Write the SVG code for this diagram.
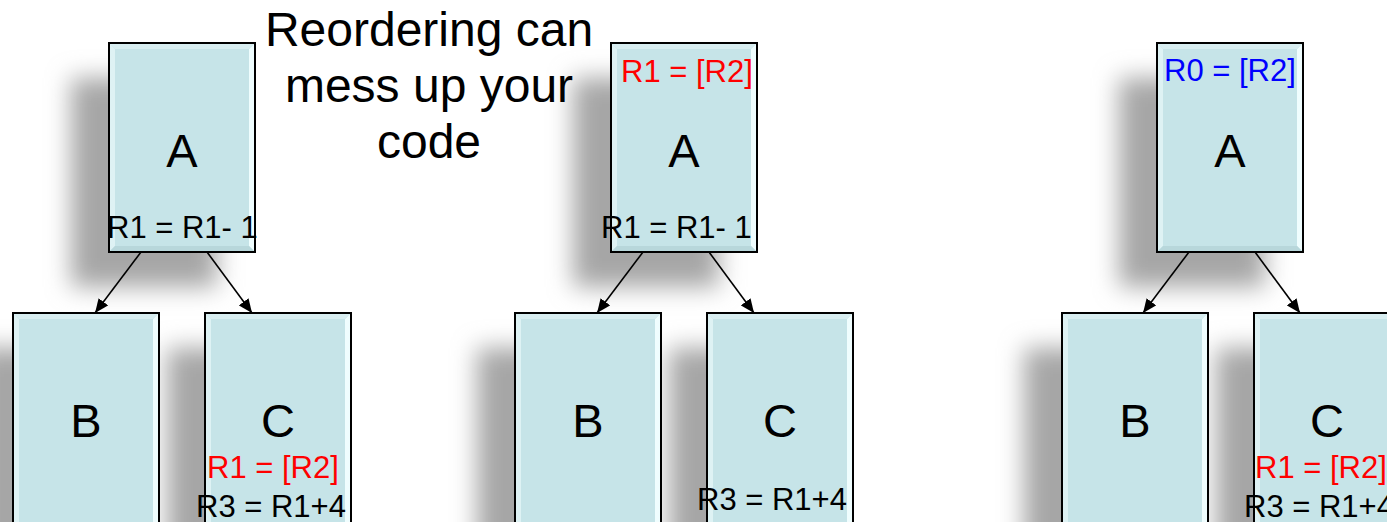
<svg xmlns="http://www.w3.org/2000/svg" xmlns:xlink="http://www.w3.org/1999/xlink" width="1387" height="522" viewBox="0 0 1387 522">
  <style>
    .lbl { font-family: "Liberation Sans", Arial, sans-serif; fill: #000; }
    .big { font-size: 47px; text-anchor: middle; }
    .code { font-size: 31px; }
    .title { font-size: 48px; text-anchor: middle; }
    .red { fill: #ff0000; }
    .blue { fill: #0000ff; }
    .shadow { fill: #a6a6a6; filter: url(#soft); }
    .face { fill: #c6e4e8; }
    .edge { fill: none; stroke: #000; stroke-width: 2; }
    .bl { fill: #def2f4; }
    .br { fill: #effdfe; }
    .bt { fill: #d8eef1; }
    .bb { fill: #b8d7db; }
    .link { stroke: #000; stroke-width: 1.6; fill: none; marker-end: url(#head); }
  </style>
  <defs>
    <filter id="soft" x="-50%" y="-50%" width="200%" height="200%">
      <feGaussianBlur stdDeviation="12"/>
    </filter>
    <marker id="head" viewBox="0 0 14 12" refX="14" refY="6" markerWidth="14" markerHeight="12" markerUnits="userSpaceOnUse" orient="auto">
      <path d="M0,0 L14,6 L0,12 Z" fill="#000"/>
    </marker>
    <!-- bevelled parent box -->
    <g id="boxTop">
      <rect class="face" width="146" height="209"/>
      <polygon class="bl" points="0,0 6,6 6,203 0,209"/>
      <polygon class="br" points="146,0 140,6 140,203 146,209"/>
      <polygon class="bt" points="0,0 146,0 140,6 6,6"/>
      <polygon class="bb" points="0,209 6,203 140,203 146,209"/>
      <rect class="edge" width="146" height="209"/>
    </g>
    <!-- bevelled child box (runs past the bottom edge) -->
    <g id="boxLow">
      <rect class="face" width="146" height="215"/>
      <polygon class="bl" points="0,0 6,6 6,209 0,215"/>
      <polygon class="br" points="146,0 140,6 140,209 146,215"/>
      <polygon class="bt" points="0,0 146,0 140,6 6,6"/>
      <rect class="edge" width="146" height="215"/>
    </g>
  </defs>

  <rect width="1387" height="522" fill="#fff"/>

  <!-- drop shadows -->
  <g id="shadows">
    <rect class="shadow" x="71" y="78" width="146" height="209"/>
    <rect class="shadow" x="-25" y="348" width="146" height="215"/>
    <rect class="shadow" x="167" y="348" width="146" height="215"/>
    <rect class="shadow" x="573" y="78" width="146" height="209"/>
    <rect class="shadow" x="477" y="348" width="146" height="215"/>
    <rect class="shadow" x="669" y="348" width="146" height="215"/>
    <rect class="shadow" x="1119" y="78" width="146" height="209"/>
    <rect class="shadow" x="1024" y="348" width="146" height="215"/>
    <rect class="shadow" x="1216" y="348" width="146" height="215"/>
  </g>

  <!-- heading -->
  <g id="heading" class="lbl title">
    <text x="429" y="46">Reordering can</text>
    <text x="429" y="102">mess up your</text>
    <text x="429" y="158">code</text>
  </g>

  <!-- first tree -->
  <g id="t1-A">
    <use xlink:href="#boxTop" x="109" y="43"/>
    <text class="lbl big" x="182" y="167">A</text>
    <text class="lbl code" x="107" y="238">R1 = R1- 1</text>
  </g>
  <g id="t1-B">
    <use xlink:href="#boxLow" x="13" y="313"/>
    <text class="lbl big" x="86" y="437">B</text>
  </g>
  <g id="t1-C">
    <use xlink:href="#boxLow" x="205" y="313"/>
    <text class="lbl big" x="278" y="437">C</text>
    <text class="lbl code red" x="207" y="478">R1 = [R2]</text>
    <text class="lbl code" x="196" y="517">R3 = R1+4</text>
  </g>

  <!-- second tree -->
  <g id="t2-A">
    <use xlink:href="#boxTop" x="611" y="43"/>
    <text class="lbl code red" x="621" y="82">R1 = [R2]</text>
    <text class="lbl big" x="684" y="167">A</text>
    <text class="lbl code" x="601" y="238">R1 = R1- 1</text>
  </g>
  <g id="t2-B">
    <use xlink:href="#boxLow" x="515" y="313"/>
    <text class="lbl big" x="588" y="437">B</text>
  </g>
  <g id="t2-C">
    <use xlink:href="#boxLow" x="707" y="313"/>
    <text class="lbl big" x="780" y="437">C</text>
    <text class="lbl code" x="697" y="510">R3 = R1+4</text>
  </g>

  <!-- third tree -->
  <g id="t3-A">
    <use xlink:href="#boxTop" x="1157" y="43"/>
    <text class="lbl code blue" x="1164" y="81">R0 = [R2]</text>
    <text class="lbl big" x="1230" y="167">A</text>
  </g>
  <g id="t3-B">
    <use xlink:href="#boxLow" x="1062" y="313"/>
    <text class="lbl big" x="1135" y="437">B</text>
  </g>
  <g id="t3-C">
    <use xlink:href="#boxLow" x="1254" y="313"/>
    <text class="lbl big" x="1327" y="437">C</text>
    <text class="lbl code red" x="1255" y="478">R1 = [R2]</text>
    <text class="lbl code" x="1244" y="517">R3 = R1+4</text>
  </g>

  <!-- parent-to-child links -->
  <g id="connectors">
    <line class="link" x1="141" y1="252" x2="95" y2="313"/>
    <line class="link" x1="207" y1="252" x2="252" y2="313"/>
    <line class="link" x1="643" y1="252" x2="597" y2="313"/>
    <line class="link" x1="709" y1="252" x2="754" y2="313"/>
    <line class="link" x1="1189" y1="252" x2="1143" y2="313"/>
    <line class="link" x1="1255" y1="252" x2="1300" y2="313"/>
  </g>
</svg>
